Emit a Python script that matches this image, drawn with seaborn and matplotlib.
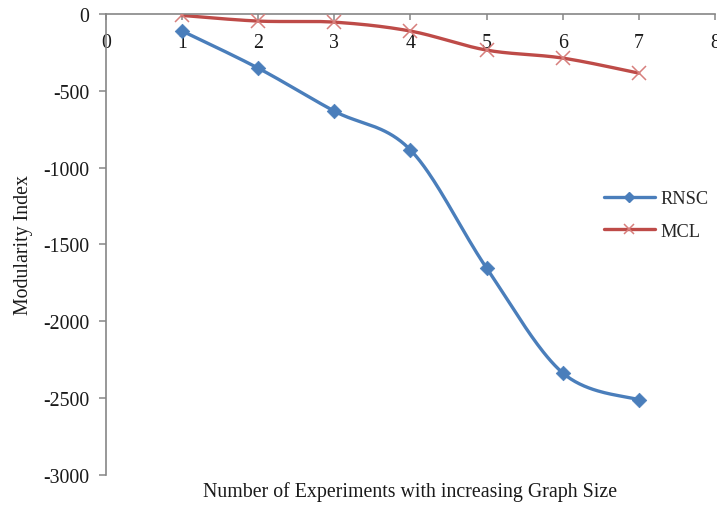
import numpy as np
import pandas as pd
import matplotlib
matplotlib.use("Agg")
import matplotlib.pyplot as plt
from matplotlib.lines import Line2D
import seaborn as sns

# Experiment data
experiments = [1, 2, 3, 4, 5, 6, 7]
rnsc = [-110, -352, -632, -885, -1654, -2337, -2513]
mcl = [-8, -45, -52, -110, -234, -286, -384]

x_ticks = [0, 1, 2, 3, 4, 5, 6, 7, 8]
y_ticks = [0, -500, -1000, -1500, -2000, -2500, -3000]

BLUE = "#4A7EBB"
RED = "#BE4B48"
RED_MARK = "#D77F7C"
AXIS = "#868686"
TEXT = "#1a1a1a"
FS = 14.3


def smooth(xs, ys, n=40):
    """Cubic Bezier smoothing through every point (spreadsheet-style curves)."""
    p = np.column_stack([xs, ys]).astype(float)
    ext = np.vstack([p[0], p, p[-1]])
    out = []
    t = np.linspace(0, 1, n)[:, None]
    for i in range(len(p) - 1):
        p0, p3 = ext[i + 1], ext[i + 2]
        c1 = p0 + (ext[i + 2] - ext[i]) / 6.0
        c2 = p3 - (ext[i + 3] - ext[i + 1]) / 6.0
        seg = ((1 - t) ** 3) * p0 + 3 * ((1 - t) ** 2) * t * c1 + 3 * (1 - t) * t ** 2 * c2 + t ** 3 * p3
        out.append(seg if i == 0 else seg[1:])
    seg = np.vstack(out)
    return seg[:, 0], seg[:, 1]


sns.set_theme(style="white")
plt.rcParams["font.family"] = ["Liberation Serif", "DejaVu Serif"]

fig = plt.figure(figsize=(7.17, 5.06), dpi=100)
ax = fig.add_axes([0.148, 0.060, 0.849, 0.910])

df = pd.DataFrame({"x": experiments, "RNSC": rnsc, "MCL": mcl})
for name, color in (("RNSC", BLUE), ("MCL", RED)):
    sx, sy = smooth(df["x"], df[name])
    sns.lineplot(x=sx, y=sy, sort=False, estimator=None, color=color,
                 linewidth=2.4, ax=ax)

sns.scatterplot(data=df, x="x", y="RNSC", marker="D", s=55, color=BLUE,
                edgecolor=BLUE, linewidth=0.5, ax=ax, zorder=5)
ax.plot(df["x"], df["MCL"], linestyle="none", marker="x", markersize=10,
        markeredgewidth=1.1, color=RED_MARK, zorder=5)

ax.set_xlim(0, 8)
ax.set_ylim(-3000, 0)
ax.set_xticks(x_ticks)
ax.set_xticklabels([str(v) for v in x_ticks])
ax.set_yticks(y_ticks)
ax.set_yticklabels([str(v) for v in y_ticks])

for side in ("bottom", "right"):
    ax.spines[side].set_visible(False)
for side in ("top", "left"):
    ax.spines[side].set_color(AXIS)
    ax.spines[side].set_linewidth(1.2)

ax.tick_params(axis="x", top=True, bottom=False, labeltop=True,
               labelbottom=False, direction="in", length=4, width=1.1,
               color=AXIS, pad=-27, labelsize=FS, labelcolor=TEXT)
ax.tick_params(axis="y", left=True, direction="out", length=5, width=1.1,
               color=AXIS, pad=7, labelsize=FS, labelcolor=TEXT)

ax.set_xlabel("Number of Experiments with increasing Graph Size",
              fontsize=FS, color=TEXT, labelpad=5)
ax.xaxis.set_label_position("bottom")
ax.set_ylabel("Modularity Index", fontsize=FS, color=TEXT, labelpad=7)
ax.grid(False)

handles = [
    Line2D([], [], color=BLUE, linewidth=2.4, marker="D", markersize=5.5),
    Line2D([], [], color=RED, linewidth=2.4, marker="x", markersize=7,
           markeredgecolor=RED_MARK, markeredgewidth=1.1),
]
ax.legend(handles, ["RNSC", "MCL"], loc="center left",
          bbox_to_anchor=(0.842, 0.573), bbox_transform=fig.transFigure,
          frameon=False, fontsize=13.2, handlelength=2.8, handletextpad=0.3,
          labelspacing=0.85, borderpad=0, borderaxespad=0)

fig.savefig("out.png", dpi=100)
